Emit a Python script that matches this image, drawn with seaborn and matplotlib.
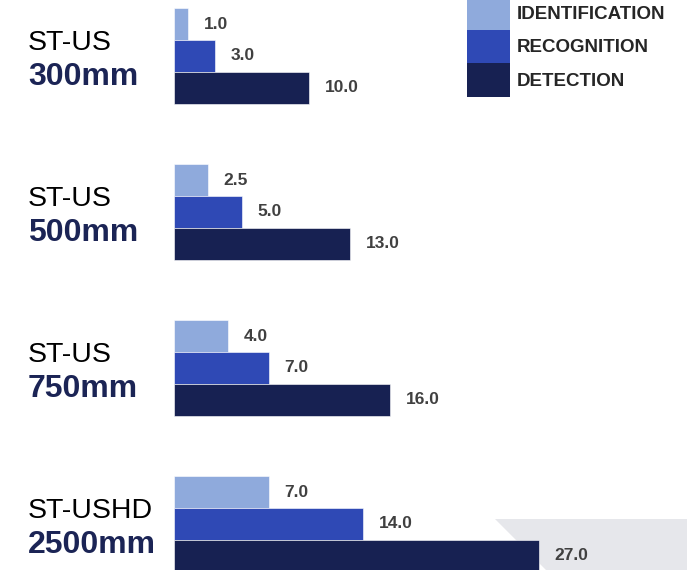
import matplotlib
matplotlib.use("Agg")
import matplotlib.pyplot as plt
from matplotlib.patches import Patch, Polygon
import pandas as pd
import seaborn as sns

# data
models = ["ST-US", "ST-US", "ST-US", "ST-USHD"]
lenses = ["300mm", "500mm", "750mm", "2500mm"]
identification = [1.0, 2.5, 4.0, 7.0]
recognition = [3.0, 5.0, 7.0, 14.0]
detection = [10.0, 13.0, 16.0, 27.0]
series = ["IDENTIFICATION", "RECOGNITION", "DETECTION"]
colors = ["#8FAADC", "#2F49B5", "#172152"]

cats = [m + " " + l for m, l in zip(models, lenses)]
df = pd.DataFrame({
    "camera": cats * 3,
    "range": [series[0]] * 4 + [series[1]] * 4 + [series[2]] * 4,
    "value": identification + recognition + detection,
})

sns.set_style("white")
plt.rcParams["font.family"] = ["Liberation Sans", "DejaVu Sans"]

W, H = 687, 570
fig = plt.figure(figsize=(W / 100, H / 100), dpi=100)
ax = fig.add_axes([174 / W, 0, (W - 174) / W, 1])
ax.patch.set_visible(False)

# light grey corner shape behind the last bar
fig.add_artist(Polygon([(495 / W, 1 - 519 / H), (1, 1 - 519 / H), (1, 0), (546 / W, 0)],
                       closed=True, transform=fig.transFigure, facecolor="#E6E7EB",
                       edgecolor="none", zorder=-1))

sns.barplot(data=df, x="value", y="camera", hue="range", hue_order=series,
            palette=colors, saturation=1, width=0.615, orient="h", ax=ax,
            legend=False, edgecolor="white", linewidth=0.4)

ax.set_xlim(0, (W - 174) / 13.5)
ax.set_ylim((H - 56) / 156, -56 / 156)

for c in ax.containers:
    ax.bar_label(c, fmt="%.1f", padding=11.5, fontsize=12.5, fontweight="bold",
                 color="#404040")

ax.set_xlabel("")
ax.set_ylabel("")
ax.set_xticks([])
ax.set_yticks([])
sns.despine(ax=ax, left=True, bottom=True)

tr = ax.get_yaxis_transform()
x0 = (28 - 174) / (W - 174)
for i, (m, l) in enumerate(zip(models, lenses)):
    ax.text(x0, i - 13 / 156, m, transform=tr, ha="left", va="center",
            fontsize=20.5, color="black", clip_on=False)
    ax.text(x0, i + 21 / 156, l, transform=tr, ha="left", va="center",
            fontsize=23, fontweight="bold", color="#1B2455", clip_on=False)

handles = [Patch(facecolor=c, edgecolor="none") for c in colors]
fs = 13.5 / 0.72
hh = (33.5 / fs - 0.245) / 0.65
fig.legend(handles, series, loc="upper left", bbox_to_anchor=(467 / W, 1 + 4 / H),
           frameon=False, borderpad=0, borderaxespad=0, labelspacing=0,
           handlelength=43 / fs, handleheight=hh, handletextpad=7 / fs,
           prop={"size": 13.5, "weight": "bold"})

fig.savefig("out.png", dpi=100)
